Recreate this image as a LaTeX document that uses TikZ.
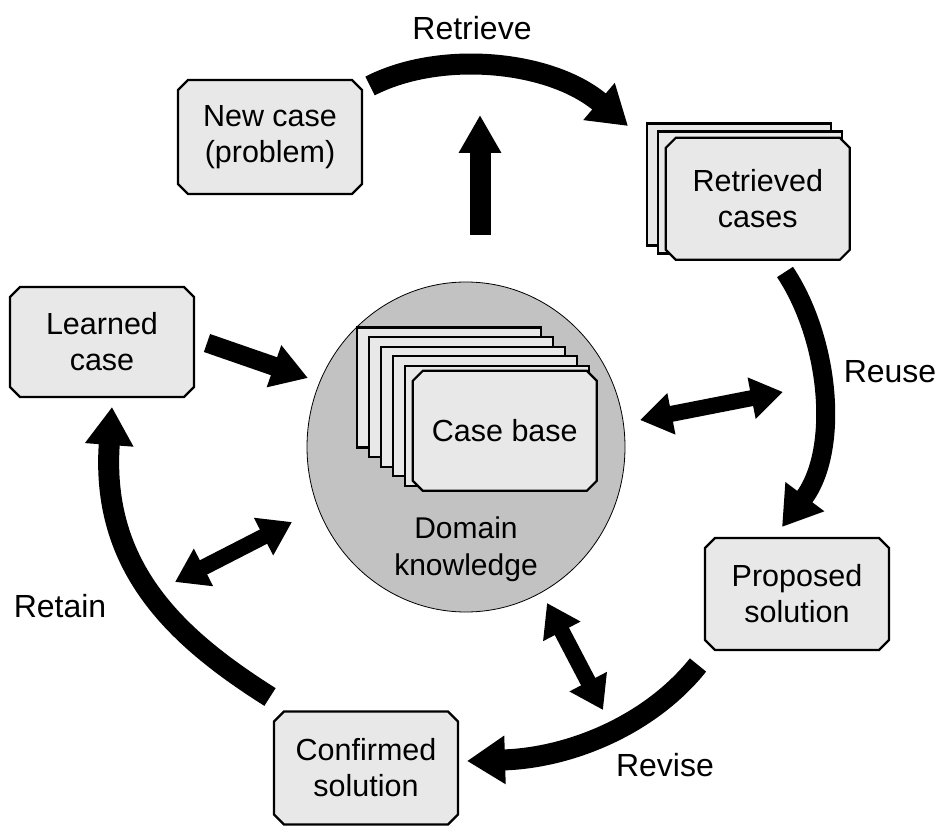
\documentclass[tikz,border=0pt]{standalone}
\usepackage{fontspec}
\setmainfont{Liberation Sans}
\usetikzlibrary{arrows.meta,shapes.misc,shapes.geometric}
\definecolor{cardgray}{gray}{0.91}
\definecolor{dkgray}{gray}{0.76}
\begin{document}
\begin{tikzpicture}[x=1pt,y=-1pt,
  card/.style={chamfered rectangle, chamfered rectangle xsep=5pt, chamfered rectangle ysep=5pt,
    draw=black, line width=2.2pt, fill=cardgray, minimum width=184pt, minimum height=114pt,
    inner sep=0pt, align=center, font=\fontsize{30.5}{36}\selectfont},
  stackcard/.style={card, anchor=north west, minimum height=120pt},
  lbl/.style={font=\fontsize{32}{36}\selectfont, inner sep=0pt},
  bigarrow/.style={line width=21pt, -{Triangle[length=38pt,width=46pt]}},
  midarrow/.style={line width=19pt, -{Triangle[length=36pt,width=42pt]}},
  dblarrow/.style={line width=16pt, {Triangle[length=32pt,width=40pt]}-{Triangle[length=32pt,width=40pt]}}
]
\useasboundingbox (0,0) rectangle (944,834);

% domain knowledge circle
\node[ellipse, draw=black, line width=0.8pt, fill=dkgray, minimum width=318pt, minimum height=330pt, inner sep=0pt] (dk) at (466,447) {};
\node[lbl, align=center, font=\fontsize{30}{37}\selectfont] (dktext) at (466,549) {Domain\\knowledge};

% case base stack
\node[stackcard] (cb1) at (357,327) {};
\node[stackcard] (cb2) at (369,336.6) {};
\node[stackcard] (cb3) at (381,346.2) {};
\node[stackcard] (cb4) at (393,355.8) {};
\node[stackcard] (cb5) at (405,365.4) {};
\node[stackcard] (cb6) at (417,375) {Case base};

% boxes
\node[card] (new) at (270,137) {New case\\(problem)};
\node[stackcard, minimum height=122pt] (rc1) at (647,123) {};
\node[stackcard, minimum height=122pt] (rc2) at (658,131) {};
\node[stackcard, minimum height=122pt] (rc3) at (670,142) {Retrieved\\cases};
\node[card, minimum height=110pt] (learned) at (102,342) {Learned\\case};
\node[card, minimum height=112pt] (proposed) at (797,594) {Proposed\\solution};
\node[card, minimum height=113pt] (confirmed) at (366,768) {Confirmed\\solution};

% labels
\node[lbl] (lretrieve) at (472,28) {Retrieve};
\node[lbl] (lreuse) at (890,372) {Reuse};
\node[lbl] (lrevise) at (665,765) {Revise};
\node[lbl] (lretain) at (60,606) {Retain};

% coordinates
\coordinate (upS) at (480,235);
\coordinate (upE) at (480,115);
\coordinate (retS) at (370,86);
\coordinate (retE) at (628,126);
\coordinate (reuS) at (785,272);
\coordinate (reuE) at (782,527);
\coordinate (revS) at (698,665);
\coordinate (revE) at (467,761);
\coordinate (rtnS) at (270,697);
\coordinate (rtnE) at (112,407);
\coordinate (lrnS) at (207,343);
\coordinate (lrnE) at (308,378);
\coordinate (d1a) at (640,420);
\coordinate (d1b) at (783,392);
\coordinate (d2a) at (175,582);
\coordinate (d2b) at (292,522);
\coordinate (d3a) at (547,603);
\coordinate (d3b) at (603,710);

% arrows
\draw[line width=21pt, -{Triangle[length=38pt,width=40pt]}] (upS) -- (upE);
\draw[bigarrow] (retS) .. controls (440,50) and (550,60) .. (retE);
\draw[bigarrow, line width=19pt] (reuS) .. controls (830,340) and (840,450) .. (reuE);
\draw[bigarrow] (revS) .. controls (650,725) and (570,758) .. (revE);
\draw[bigarrow] (rtnS) .. controls (180,640) and (100,570) .. (rtnE);
\draw[midarrow] (lrnS) -- (lrnE);
\draw[dblarrow] (d1a) -- (d1b);
\draw[dblarrow] (d2a) -- (d2b);
\draw[dblarrow] (d3a) -- (d3b);
\end{tikzpicture}
\end{document}
